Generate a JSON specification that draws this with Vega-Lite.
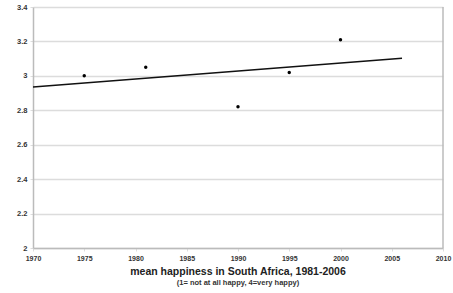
{
  "$schema": "https://vega.github.io/schema/vega-lite/v6.json",
  "width": 410,
  "height": 241,
  "autosize": {"type": "none"},
  "padding": {"left": 33, "top": 7, "right": 10, "bottom": 45},
  "background": "white",
  "config": {
    "view": {"stroke": null},
    "font": "Liberation Sans"
  },
  "title": {
    "text": "mean happiness in South Africa, 1981-2006",
    "subtitle": "(1= not at all happy,  4=very happy)",
    "orient": "bottom",
    "anchor": "middle",
    "fontSize": 10.5,
    "fontWeight": "bold",
    "color": "#222",
    "subtitleFontSize": 7.5,
    "subtitleColor": "#333",
    "subtitleFontWeight": "bold",
    "offset": 6,
    "subtitlePadding": 1
  },
  "data": {
    "values": [
      {"year": 1975, "happiness": 3.0},
      {"year": 1981, "happiness": 3.05},
      {"year": 1990, "happiness": 2.82},
      {"year": 1995, "happiness": 3.02},
      {"year": 2000, "happiness": 3.21}
    ]
  },
  "layer": [
    {
      "mark": {"type": "point", "filled": true, "color": "#000", "size": 12, "opacity": 1},
      "encoding": {
        "x": {
          "field": "year", "type": "quantitative",
          "scale": {"domain": [1970, 2010], "nice": false, "zero": false},
          "axis": {
            "values": [1970, 1975, 1980, 1985, 1990, 1995, 2000, 2005, 2010],
            "tickCount": 9,
            "format": "d", "title": null, "grid": false,
            "domainColor": "#bbb", "domainWidth": 1.5,
            "tickColor": "#ddd", "tickSize": 3,
            "labelFontSize": 7, "labelFontWeight": "bold", "labelColor": "#333",
            "labelPadding": 3, "labelFlush": false, "labelOverlap": false
          }
        },
        "y": {
          "field": "happiness", "type": "quantitative",
          "scale": {"domain": [2, 3.4], "nice": false, "zero": false},
          "axis": {
            "values": [2, 2.2, 2.4, 2.6, 2.8, 3, 3.2, 3.4],
            "tickCount": 8,
            "format": ".1~f",
            "title": null, "grid": true, "gridColor": "#dcdcdc", "gridWidth": 1.5,
            "domainColor": "#bbb", "domainWidth": 1.5,
            "tickColor": "#ddd", "tickSize": 3,
            "labelFontSize": 7.5, "labelFontWeight": "bold", "labelColor": "#333",
            "labelPadding": 3, "labelOverlap": false, "labelFlush": false
          }
        }
      }
    },
    {
      "mark": {"type": "line", "color": "#111", "strokeWidth": 1.5},
      "transform": [
        {"regression": "happiness", "on": "year", "extent": [1970, 2006]}
      ],
      "encoding": {
        "x": {"field": "year", "type": "quantitative"},
        "y": {"field": "happiness", "type": "quantitative"}
      }
    },
    {
      "mark": {"type": "rule", "color": "#bbb", "strokeWidth": 1.5},
      "data": {"values": [{"year": 2010}]},
      "encoding": {
        "x": {"field": "year", "type": "quantitative"}
      }
    }
  ]
}
